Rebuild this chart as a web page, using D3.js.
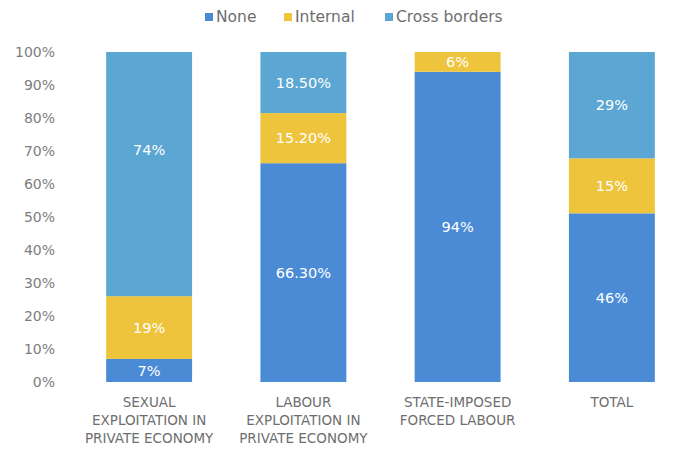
<!DOCTYPE html>
<html>
<head>
<meta charset="utf-8">
<script src="https://cdn.jsdelivr.net/npm/d3@7/dist/d3.min.js"></script>
<style>
  html, body { margin: 0; padding: 0; background: #ffffff; }
  svg { display: block; }
  text { font-family: "Century Gothic", "DejaVu Sans", sans-serif; }
</style>
</head>
<body>
<svg id="chart" width="679" height="450"></svg>
<script>
// Forced labour by type of movement, share of victims
const categories = [
  ["SEXUAL", "EXPLOITATION IN", "PRIVATE ECONOMY"],
  ["LABOUR", "EXPLOITATION IN", "PRIVATE ECONOMY"],
  ["STATE-IMPOSED", "FORCED LABOUR"],
  ["TOTAL"]
];
const seriesNames = ["None", "Internal", "Cross borders"];
const noneValues     = [7, 66.3, 94, 46];
const internalValues = [19, 15.2, 6, 15];
const crossValues    = [74, 18.5, 0, 29];
const noneLabels     = ["7%", "66.30%", "94%", "46%"];
const internalLabels = ["19%", "15.20%", "6%", "15%"];
const crossLabels    = ["74%", "18.50%", "", "29%"];
const yTicks = [0, 0.1, 0.2, 0.3, 0.4, 0.5, 0.6, 0.7, 0.8, 0.9, 1];

const colors = ["#4b8bd6", "#eec43c", "#5ba6d2"];

const svg = d3.select("#chart");

const rows = categories.map((c, i) => ({
  key: i,
  "None": noneValues[i],
  "Internal": internalValues[i],
  "Cross borders": crossValues[i]
}));
const labelSets = [noneLabels, internalLabels, crossLabels];

// Each column is scaled to 100%
const stacked = d3.stack().keys(seriesNames).offset(d3.stackOffsetExpand)(rows);

const x = d3.scaleBand()
  .domain(rows.map(d => d.key))
  .range([72, 689])
  .paddingInner(0.443)
  .paddingOuter(0.2215);

const y = d3.scaleLinear().domain([0, 1]).range([382, 52]);

// Y axis labels only (no line, no ticks)
const yAxis = d3.axisLeft(y).tickValues(yTicks).tickFormat(d3.format(".0%")).tickSize(0).tickPadding(0);
const gy = svg.append("g").attr("transform", "translate(55,0)").call(yAxis);
gy.select(".domain").remove();
gy.selectAll("text")
  .attr("fill", "#7d7d7d")
  .style("font-size", "14px")
  .style("font-family", "\"Century Gothic\", \"DejaVu Sans\", sans-serif");

// Bars
const layers = svg.append("g").selectAll("g")
  .data(stacked)
  .join("g")
  .attr("fill", (d, i) => colors[i]);

layers.selectAll("rect")
  .data(d => d)
  .join("rect")
  .attr("x", d => x(d.data.key))
  .attr("width", x.bandwidth())
  .attr("y", d => y(d[1]))
  .attr("height", d => Math.max(0, y(d[0]) - y(d[1])));

// Value labels centred in each segment
const nudge = { "0-2": -24 };
stacked.forEach((layer, si) => {
  svg.append("g").selectAll("text")
    .data(layer)
    .join("text")
    .attr("x", d => x(d.data.key) + x.bandwidth() / 2)
    .attr("y", d => (y(d[0]) + y(d[1])) / 2 + (nudge[d.data.key + "-" + si] || 0))
    .attr("dy", "0.35em")
    .attr("text-anchor", "middle")
    .attr("fill", "#ffffff")
    .style("font-size", "14.5px")
    .text(d => labelSets[si][d.data.key]);
});

// Category labels
const catG = svg.append("g");
categories.forEach((lines, i) => {
  const t = catG.append("text")
    .attr("x", x(i) + x.bandwidth() / 2)
    .attr("y", 407)
    .attr("text-anchor", "middle")
    .attr("fill", "#6e6e6e")
    .style("font-size", "13.5px");
  lines.forEach((ln, j) => {
    t.append("tspan")
      .attr("x", x(i) + x.bandwidth() / 2)
      .attr("dy", j === 0 ? 0 : 18)
      .text(ln);
  });
});

// Legend
const legendX = [205, 284, 385];
const legend = svg.append("g");
seriesNames.forEach((name, i) => {
  legend.append("rect")
    .attr("x", legendX[i])
    .attr("y", 13)
    .attr("width", 8)
    .attr("height", 8)
    .attr("fill", colors[i]);
  legend.append("text")
    .attr("x", legendX[i] + 11)
    .attr("y", 17)
    .attr("dy", "0.35em")
    .attr("fill", "#6e6e6e")
    .style("font-size", "15.5px")
    .text(name);
});
</script>
</body>
</html>
